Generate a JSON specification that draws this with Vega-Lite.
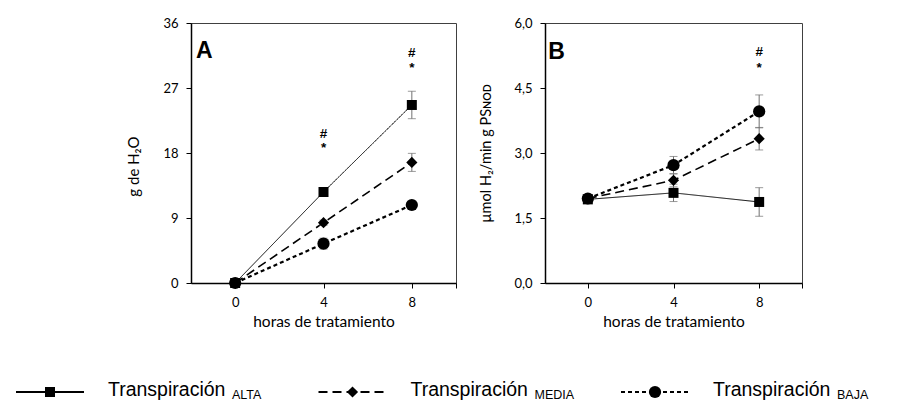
{
  "$schema": "https://vega.github.io/schema/vega-lite/v6.json",
  "background": "white",
  "padding": {"left": 11, "top": 16, "right": 0, "bottom": 0},
  "config": {
    "font": "Lato",
    "view": {"stroke": "#404040", "strokeWidth": 1},
    "axis": {
      "grid": false,
      "domainColor": "black",
      "domainWidth": 1.5,
      "tickColor": "black",
      "tickSize": 5,
      "tickWidth": 1,
      "labelFont": "Lato",
      "labelFontSize": 13,
      "labelColor": "black",
      "titleFont": "Lato",
      "titleFontSize": 15.5,
      "titleFontWeight": "normal",
      "titleColor": "black"
    }
  },
  "datasets": {
    "agua": [
      {"horas": 0, "valor": 0, "ee": 0.15, "serie": "ALTA"},
      {"horas": 4, "valor": 12.6, "ee": 0.3, "serie": "ALTA"},
      {"horas": 8, "valor": 24.65, "ee": 1.9, "serie": "ALTA"},
      {"horas": 0, "valor": 0, "ee": 0.15, "serie": "MEDIA"},
      {"horas": 4, "valor": 8.35, "ee": 0.35, "serie": "MEDIA"},
      {"horas": 8, "valor": 16.7, "ee": 1.25, "serie": "MEDIA"},
      {"horas": 0, "valor": 0, "ee": 0.15, "serie": "BAJA"},
      {"horas": 4, "valor": 5.45, "ee": 0.75, "serie": "BAJA"},
      {"horas": 8, "valor": 10.8, "ee": 0.4, "serie": "BAJA"}
    ],
    "hidrogeno": [
      {"horas": 0, "valor": 1.93, "ee": 0.05, "serie": "ALTA"},
      {"horas": 4, "valor": 2.08, "ee": 0.2, "serie": "ALTA"},
      {"horas": 8, "valor": 1.87, "ee": 0.33, "serie": "ALTA"},
      {"horas": 0, "valor": 1.95, "ee": 0.05, "serie": "MEDIA"},
      {"horas": 4, "valor": 2.37, "ee": 0.15, "serie": "MEDIA"},
      {"horas": 8, "valor": 3.33, "ee": 0.26, "serie": "MEDIA"},
      {"horas": 0, "valor": 1.95, "ee": 0.07, "serie": "BAJA"},
      {"horas": 4, "valor": 2.72, "ee": 0.2, "serie": "BAJA"},
      {"horas": 8, "valor": 3.96, "ee": 0.38, "serie": "BAJA"}
    ],
    "notas_a": [
      {"horas": 4, "valor": 20.6, "texto": "#"},
      {"horas": 4, "valor": 18.7, "texto": "*"},
      {"horas": 8, "valor": 31.9, "texto": "#"},
      {"horas": 8, "valor": 29.8, "texto": "*"}
    ],
    "notas_b": [
      {"horas": 8, "valor": 5.33, "texto": "#"},
      {"horas": 8, "valor": 4.97, "texto": "*"}
    ],
    "panel_a": [{"horas": -1.77, "valor": 31.2, "texto": "A"}],
    "panel_b": [{"horas": -1.85, "valor": 5.17, "texto": "B"}],
    "leyenda": [
      {"serie": "ALTA", "etiqueta": "Transpiración", "sub": "ALTA"},
      {"serie": "MEDIA", "etiqueta": "Transpiración", "sub": "MEDIA"},
      {"serie": "BAJA", "etiqueta": "Transpiración", "sub": "BAJA"}
    ]
  },
  "bounds": "flush",
  "spacing": 89,
  "hconcat": [
    {
      "width": 265,
      "height": 260,
      "layer": [
        {
          "data": {"name": "agua"},
          "encoding": {
            "x": {
              "field": "horas", "type": "quantitative",
              "scale": {"domain": [-2, 10], "nice": false, "zero": false},
              "axis": {"title": "horas de tratamiento", "values": [0, 4, 8, 10], "labelExpr": "datum.value == 10 ? '' : datum.label", "labelFlush": false, "labelPadding": 8, "titlePadding": 5}
            },
            "y": {
              "field": "valor", "type": "quantitative",
              "scale": {"domain": [0, 36], "nice": false},
              "axis": {"title": "g de H₂O", "titleFontSize": 15, "titleY": 143, "values": [0, 9, 18, 27, 36], "labelPadding": 8, "titlePadding": 21}
            }
          },
          "layer": [
            {
              "mark": {"type": "line", "color": "black"},
              "encoding": {
                "detail": {"field": "serie"},
                "strokeDash": {"field": "serie", "type": "nominal", "scale": {"domain": ["ALTA", "MEDIA", "BAJA"], "range": [[1, 0], [9, 5], [4, 3]]}, "legend": null},
                "strokeWidth": {"field": "serie", "type": "nominal", "scale": {"domain": ["ALTA", "MEDIA", "BAJA"], "range": [1, 2.2, 2.2]}, "legend": null}
              }
            },
            {
              "mark": {"type": "errorbar", "ticks": true, "size": 8, "thickness": 1, "color": "#707070"},
              "encoding": {"yError": {"field": "ee"}, "detail": {"field": "serie"}}
            },
            {
              "mark": {"type": "point", "filled": true, "color": "black", "opacity": 1},
              "encoding": {
                "shape": {"field": "serie", "type": "nominal", "scale": {"domain": ["ALTA", "MEDIA", "BAJA"], "range": ["square", "diamond", "circle"]}, "legend": null},
                "size": {"field": "serie", "type": "nominal", "scale": {"domain": ["ALTA", "MEDIA", "BAJA"], "range": [100, 150, 100]}, "legend": null}
              }
            },
            {
              "data": {"name": "notas_a"},
              "mark": {"type": "text", "font": "Liberation Sans", "fontWeight": "bold", "fontSize": 13.5, "baseline": "middle", "color": "black"},
              "encoding": {"text": {"field": "texto"}}
            },
            {
              "data": {"name": "panel_a"},
              "mark": {"type": "text", "font": "Liberation Sans", "fontWeight": "bold", "fontSize": 23, "align": "left", "baseline": "alphabetic", "color": "black"},
              "encoding": {"text": {"field": "texto"}}
            }
          ]
        },
        {
          "data": {"name": "leyenda"},
          "encoding": {
            "x": {"field": "serie", "type": "nominal", "scale": {"type": "point", "domain": ["ALTA", "MEDIA", "BAJA"], "range": [-141, 464], "padding": 0}, "axis": null},
            "y": {"datum": "leyenda", "type": "nominal", "scale": {"type": "point", "range": [369, 369]}, "axis": null}
          },
          "layer": [
            {
              "mark": {"type": "point", "shape": "M-1,0L1,0", "size": 4624, "filled": false, "color": "black", "opacity": 1, "strokeWidth": 2},
              "encoding": {
                "strokeDash": {"field": "serie", "type": "nominal", "scale": {"domain": ["ALTA", "MEDIA", "BAJA"], "range": [[1, 0], [9, 5], [4, 3]]}, "legend": null}
              }
            },
            {
              "mark": {"type": "point", "filled": true, "color": "black", "opacity": 1},
              "encoding": {
                "shape": {"field": "serie", "type": "nominal", "scale": {"domain": ["ALTA", "MEDIA", "BAJA"], "range": ["square", "diamond", "circle"]}, "legend": null},
                "size": {"field": "serie", "type": "nominal", "scale": {"domain": ["ALTA", "MEDIA", "BAJA"], "range": [130, 170, 130]}, "legend": null}
              }
            },
            {
              "mark": {"type": "text", "font": "Liberation Sans", "fontSize": 19.5, "align": "left", "baseline": "alphabetic", "dx": 58, "dy": 4, "color": "black"},
              "encoding": {"text": {"field": "etiqueta"}}
            },
            {
              "mark": {"type": "text", "font": "Liberation Sans", "fontSize": 12.5, "align": "left", "baseline": "alphabetic", "dx": 182, "dy": 6.5, "color": "black"},
              "encoding": {"text": {"field": "sub"}}
            }
          ]
        }
      ],
      "resolve": {"scale": {"x": "independent", "y": "independent"}}
    },
    {
      "width": 257,
      "height": 260,
      "data": {"name": "hidrogeno"},
      "encoding": {
        "x": {
          "field": "horas", "type": "quantitative",
          "scale": {"domain": [-2, 10], "nice": false, "zero": false},
          "axis": {"title": "horas de tratamiento", "values": [0, 4, 8, 10], "labelExpr": "datum.value == 10 ? '' : datum.label", "labelFlush": false, "labelPadding": 8, "titlePadding": 5}
        },
        "y": {
          "field": "valor", "type": "quantitative",
          "scale": {"domain": [0, 6], "nice": false},
          "axis": {"title": "µmol H₂/min g PSɴᴏᴅ", "titleFontSize": 14.5, "values": [0, 1.5, 3, 4.5, 6], "labelExpr": "replace(format(datum.value, '.1f'), '.', ',')", "labelPadding": 8, "titlePadding": 20}
        }
      },
      "layer": [
        {
          "mark": {"type": "line", "color": "black"},
          "encoding": {
            "detail": {"field": "serie"},
            "strokeDash": {"field": "serie", "type": "nominal", "scale": {"domain": ["ALTA", "MEDIA", "BAJA"], "range": [[1, 0], [9, 5], [4, 3]]}, "legend": null},
            "strokeWidth": {"field": "serie", "type": "nominal", "scale": {"domain": ["ALTA", "MEDIA", "BAJA"], "range": [1, 2.2, 2.2]}, "legend": null}
          }
        },
        {
          "mark": {"type": "errorbar", "ticks": true, "size": 8, "thickness": 1, "color": "#707070"},
          "encoding": {"yError": {"field": "ee"}, "detail": {"field": "serie"}}
        },
        {
          "mark": {"type": "point", "filled": true, "color": "black", "opacity": 1},
          "encoding": {
            "shape": {"field": "serie", "type": "nominal", "scale": {"domain": ["ALTA", "MEDIA", "BAJA"], "range": ["square", "diamond", "circle"]}, "legend": null},
            "size": {"field": "serie", "type": "nominal", "scale": {"domain": ["ALTA", "MEDIA", "BAJA"], "range": [100, 150, 100]}, "legend": null}
          }
        },
        {
          "data": {"name": "notas_b"},
          "mark": {"type": "text", "font": "Liberation Sans", "fontWeight": "bold", "fontSize": 13.5, "baseline": "middle", "color": "black"},
          "encoding": {"text": {"field": "texto"}}
        },
        {
          "data": {"name": "panel_b"},
          "mark": {"type": "text", "font": "Liberation Sans", "fontWeight": "bold", "fontSize": 23, "align": "left", "baseline": "alphabetic", "color": "black"},
          "encoding": {"text": {"field": "texto"}}
        }
      ]
    }
  ]
}
